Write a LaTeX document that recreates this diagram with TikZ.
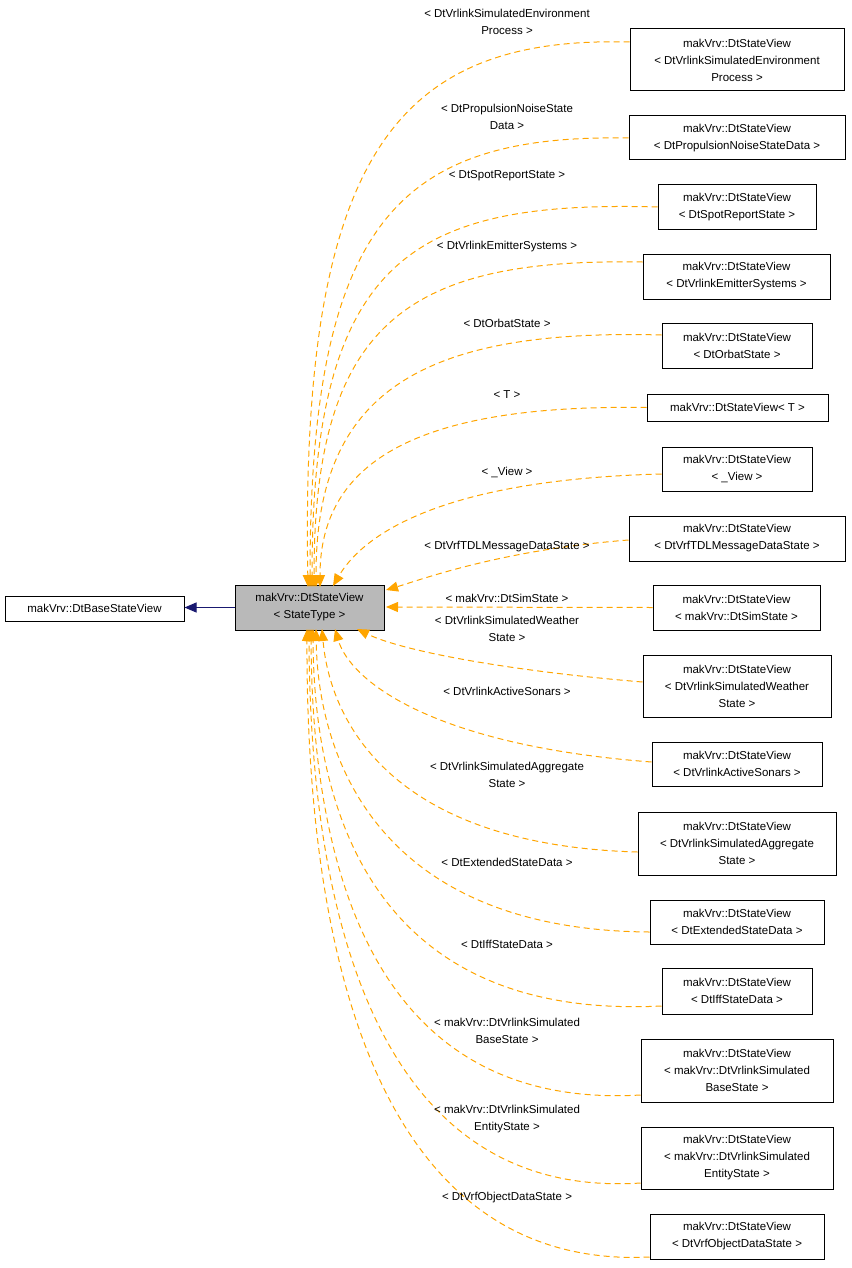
\documentclass[tikz,border=0pt]{standalone}
\usepackage{fontspec}
\setmainfont{Liberation Sans}
\usetikzlibrary{arrows.meta}

\definecolor{edgenavy}{RGB}{25,25,112}
\definecolor{tmplorange}{RGB}{255,165,0}

\tikzset{
  cls/.style={draw, line width=1pt, align=center, inner sep=2pt, font=\fontsize{11.5}{17}\selectfont, fill=white},
  lbl/.style={align=center, inner sep=0pt, font=\fontsize{11.5}{17}\selectfont},
  tmpl/.style={draw=tmplorange, line width=1pt, dash pattern=on 6pt off 4pt, -{Triangle[length=12pt,width=10pt]}},
}

\begin{document}
\begin{tikzpicture}[x=1pt,y=-1pt]
  \useasboundingbox (0,0) rectangle (851,1268);

  \node[cls, minimum width=179pt, minimum height=25pt] (base) at (94.5,608.5) {makVrv::DtBaseStateView};
  \node[cls, fill=gray!55, minimum width=149pt, minimum height=45pt] (sv) at (309.5,607.5) {makVrv::DtStateView\\< StateType >};
  \draw[draw=edgenavy, line width=1pt, -{Triangle[length=12pt,width=10pt]}] (sv.west) -- (base.east |- sv.west);

  \node[cls, minimum width=214pt, minimum height=62pt] (n1) at (737,60) {makVrv::DtStateView\\< DtVrlinkSimulatedEnvironment\\Process >};
  \node[cls, minimum width=216pt, minimum height=44pt] (n2) at (737,138) {makVrv::DtStateView\\< DtPropulsionNoiseStateData >};
  \node[cls, minimum width=158pt, minimum height=45pt] (n3) at (737,207) {makVrv::DtStateView\\< DtSpotReportState >};
  \node[cls, minimum width=187pt, minimum height=45pt] (n4) at (736.5,276.5) {makVrv::DtStateView\\< DtVrlinkEmitterSystems >};
  \node[cls, minimum width=150pt, minimum height=45pt] (n5) at (737,345.5) {makVrv::DtStateView\\< DtOrbatState >};
  \node[cls, minimum width=181pt, minimum height=27pt] (n6) at (737.5,407.5) {makVrv::DtStateView< T >};
  \node[cls, minimum width=150pt, minimum height=44pt] (n7) at (737,469) {makVrv::DtStateView\\< \_View >};
  \node[cls, minimum width=216pt, minimum height=45pt] (n8) at (737,538.5) {makVrv::DtStateView\\< DtVrfTDLMessageDataState >};
  \node[cls, minimum width=167pt, minimum height=45pt] (n9) at (736.5,607.5) {makVrv::DtStateView\\< makVrv::DtSimState >};
  \node[cls, minimum width=188pt, minimum height=62pt] (n10) at (737,686) {makVrv::DtStateView\\< DtVrlinkSimulatedWeather\\State >};
  \node[cls, minimum width=170pt, minimum height=44pt] (n11) at (737,764) {makVrv::DtStateView\\< DtVrlinkActiveSonars >};
  \node[cls, minimum width=198pt, minimum height=63pt] (n12) at (737,843.5) {makVrv::DtStateView\\< DtVrlinkSimulatedAggregate\\State >};
  \node[cls, minimum width=174pt, minimum height=44pt] (n13) at (737,922) {makVrv::DtStateView\\< DtExtendedStateData >};
  \node[cls, minimum width=150pt, minimum height=46pt] (n14) at (737,991) {makVrv::DtStateView\\< DtIffStateData >};
  \node[cls, minimum width=192pt, minimum height=63pt] (n15) at (737,1070.5) {makVrv::DtStateView\\< makVrv::DtVrlinkSimulated\\BaseState >};
  \node[cls, minimum width=192pt, minimum height=62pt] (n16) at (737,1158) {makVrv::DtStateView\\< makVrv::DtVrlinkSimulated\\EntityState >};
  \node[cls, minimum width=174pt, minimum height=45pt] (n17) at (737,1236.5) {makVrv::DtStateView\\< DtVrfObjectDataState >};

  % template arguments
  \coordinate (e1) at (308,587);
  \coordinate (e2) at (310,587);
  \coordinate (e3) at (312,587);
  \coordinate (e4) at (314,587);
  \coordinate (e5) at (316,587);
  \coordinate (e6) at (320,587);
  \coordinate (e7) at (333,586);
  \coordinate (e8) at (386,590);
  \coordinate (e9) at (386,607);
  \coordinate (e10) at (357,629);
  \coordinate (e11) at (335,629);
  \coordinate (e12) at (322,629);
  \coordinate (e13) at (316,629);
  \coordinate (e14) at (313,629);
  \coordinate (e15) at (311,629);
  \coordinate (e16) at (309,629);
  \coordinate (e17) at (307,629);

  \draw[tmpl] (n1.west |- 0,42) .. controls (400,36) and (300,150) .. (e1);
  \draw[tmpl] (n2.west) .. controls (400,134) and (310,220) .. (e2);
  \draw[tmpl] (n3.west) .. controls (410,200) and (312,260) .. (e3);
  \draw[tmpl] (n4.west |- 0,262) .. controls (410,258) and (314,320) .. (e4);
  \draw[tmpl] (n5.west |- 0,335) .. controls (410,328) and (316,400) .. (e5);
  \draw[tmpl] (n6.west) .. controls (420,404) and (320,460) .. (e6);
  \draw[tmpl] (n7.west |- 0,474) .. controls (430,480) and (360,540) .. (e7);
  \draw[tmpl] (n8.west |- 0,540) .. controls (500,550) and (420,580) .. (e8);
  \draw[tmpl] (n9.west) -- (e9);
  \draw[tmpl] (n10.west |- 0,682) .. controls (500,670) and (400,650) .. (e10);
  \draw[tmpl] (n11.west |- 0,762) .. controls (430,745) and (350,680) .. (e11);
  \draw[tmpl] (n12.west |- 0,852) .. controls (390,845) and (330,720) .. (e12);
  \draw[tmpl] (n13.west |- 0,932) .. controls (380,930) and (318,760) .. (e13);
  \draw[tmpl] (n14.west |- 0,1006) .. controls (380,1020) and (314,820) .. (e14);
  \draw[tmpl] (n15.west |- 0,1095) .. controls (380,1110) and (312,880) .. (e15);
  \draw[tmpl] (n16.west |- 0,1183) .. controls (380,1200) and (310,920) .. (e16);
  \draw[tmpl] (n17.west |- 0,1257) .. controls (380,1270) and (306,960) .. (e17);

  \node[lbl] (l1) at (507,22) {< DtVrlinkSimulatedEnvironment\\Process >};
  \node[lbl] (l2) at (507,117) {< DtPropulsionNoiseState\\Data >};
  \node[lbl] (l3) at (507,176) {< DtSpotReportState >};
  \node[lbl] (l4) at (507,247) {< DtVrlinkEmitterSystems >};
  \node[lbl] (l5) at (507,323) {< DtOrbatState >};
  \node[lbl] (l6) at (507,395) {< T >};
  \node[lbl] (l7) at (507,472) {< \_View >};
  \node[lbl] (l8) at (507,547) {< DtVrfTDLMessageDataState >};
  \node[lbl] (l9) at (507,598) {< makVrv::DtSimState >};
  \node[lbl] (l10) at (507,629) {< DtVrlinkSimulatedWeather\\State >};
  \node[lbl] (l11) at (507,691) {< DtVrlinkActiveSonars >};
  \node[lbl] (l12) at (507,775) {< DtVrlinkSimulatedAggregate\\State >};
  \node[lbl] (l13) at (507,862) {< DtExtendedStateData >};
  \node[lbl] (l14) at (507,944) {< DtIffStateData >};
  \node[lbl] (l15) at (507,1031) {< makVrv::DtVrlinkSimulated\\BaseState >};
  \node[lbl] (l16) at (507,1119) {< makVrv::DtVrlinkSimulated\\EntityState >};
  \node[lbl] (l17) at (507,1198) {< DtVrfObjectDataState >};
\end{tikzpicture}
\end{document}
